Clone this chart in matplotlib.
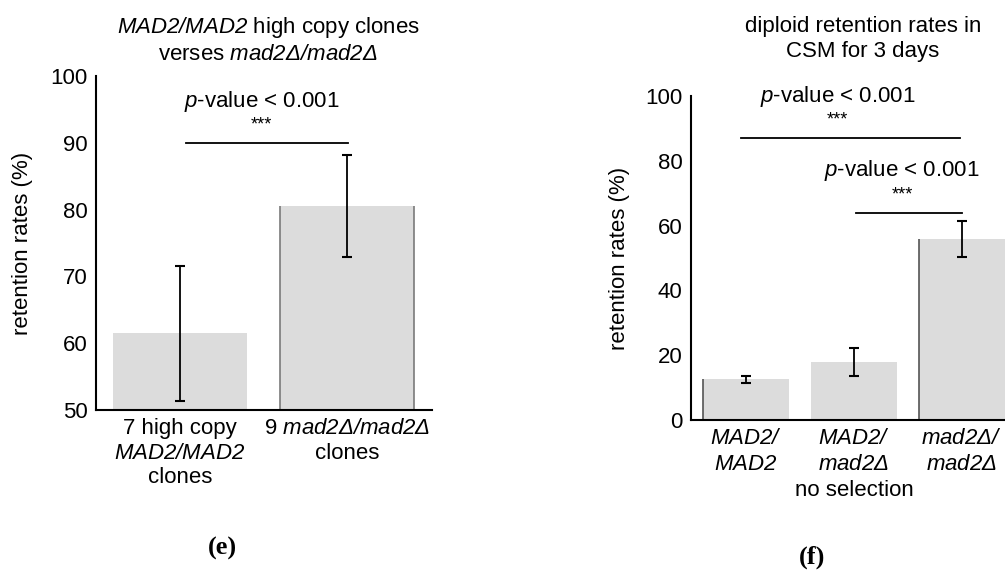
import matplotlib
matplotlib.use("Agg")
from matplotlib import pyplot as plt
import numpy as np

plt.rcParams["font.family"] = ["Liberation Sans", "DejaVu Sans"]
plt.rcParams["mathtext.fontset"] = "custom"
plt.rcParams["mathtext.rm"] = "Liberation Sans:italic"
plt.rcParams["mathtext.it"] = "Liberation Sans:italic"
plt.rcParams["mathtext.sf"] = "Liberation Sans:italic"

# panel (e)
e_labels = ["7 high copy\n$MAD2/MAD2$\nclones",
            "9 $mad2Δ/mad2Δ$\nclones"]
e_values = [61.5, 80.5]
e_errors = [10.1, 7.6]

# panel (f)
f_labels = ["$MAD2/$\n$MAD2$",
            "$MAD2/$\n$mad2Δ$\nno selection",
            "$mad2Δ/$\n$mad2Δ$"]
f_values = [12.6, 17.8, 55.8]
f_errors = [1.1, 4.3, 5.5]

FS = 16
BAR = "#dcdcdc"
W, H = 1005, 570

fig = plt.figure(figsize=(W / 100, H / 100), dpi=100)


def px_axes(x0, y0, x1, y1):
    return fig.add_axes([x0 / W, 1 - y1 / H, (x1 - x0) / W, (y1 - y0) / H])


def style(ax):
    for s in ["top", "right"]:
        ax.spines[s].set_visible(False)
    for s in ["left", "bottom"]:
        ax.spines[s].set_linewidth(1.5)
    ax.tick_params(length=0, labelsize=FS, pad=6)


def sig(ax, x0, x1, y, dx=0):
    # dx: text shift in points relative to the line centre
    ax.plot([x0, x1], [y, y], color="black", lw=1.3, clip_on=False)
    xm = (x0 + x1) / 2
    ax.annotate("***", (xm, y), xytext=(dx, 13), textcoords="offset points",
                ha="center", va="center", fontsize=13)
    ax.annotate("$p$-value < 0.001", (xm, y), xytext=(dx, 30),
                textcoords="offset points", ha="center", va="center", fontsize=FS)


# (e)
ax1 = px_axes(96, 76, 432, 410)
x = np.arange(len(e_values))
ax1.bar(x, np.array(e_values) - 50, bottom=50, width=0.8, color=BAR)
ax1.vlines([x[1] - 0.4, x[1] + 0.4], 50, e_values[1], color="#7a7a7a", lw=1.2)
ax1.errorbar(x, e_values, yerr=e_errors, fmt="none", ecolor="black",
             elinewidth=1.3, capsize=3.5, capthick=1.5)
ax1.set_xlim(-0.503, 1.509)
ax1.set_ylim(50, 100)
ax1.set_yticks([50, 60, 70, 80, 90, 100])
ax1.set_xticks(x)
ax1.set_xticklabels(e_labels, linespacing=1.2)
ax1.set_ylabel("retention rates (%)", fontsize=FS)
ax1.yaxis.set_label_coords((33 - 96) / 336, 0.5)
style(ax1)
sig(ax1, 0.036, 1.006, 90, dx=-4)
fig.text(268 / W, 1 - 40 / H,
         "$MAD2/MAD2$ high copy clones\nverses $mad2Δ/mad2Δ$",
         ha="center", va="center", fontsize=FS, linespacing=1.25)
fig.text(222 / W, 1 - 548 / H, "(e)", ha="center", va="center",
         fontsize=19, family="Liberation Serif", weight="bold")

# (f)
ax2 = px_axes(691, 96, 1005, 420)
x = np.arange(len(f_values))
ax2.bar(x, f_values, width=0.8, color=BAR)
ax2.vlines([x[0] - 0.4, x[2] - 0.4], 0, [f_values[0], f_values[2]],
           color="#555555", lw=1.2)
ax2.errorbar(x, f_values, yerr=f_errors, fmt="none", ecolor="black",
             elinewidth=1.3, capsize=3.5, capthick=1.5)
ax2.set_xlim(-0.51, 2.40)
ax2.set_ylim(0, 100)
ax2.set_yticks([0, 20, 40, 60, 80, 100])
ax2.set_xticks(x)
ax2.set_xticklabels(f_labels, linespacing=1.3)
ax2.set_ylabel("retention rates (%)", fontsize=FS)
ax2.yaxis.set_label_coords((630 - 691) / 314, 0.5)
style(ax2)
sig(ax2, -0.046, 1.98, 87, dx=-9)
sig(ax2, 1.02, 2.0, 64, dx=-5)
fig.text(863 / W, 1 - 39 / H, "diploid retention rates in\nCSM for 3 days",
         ha="center", va="center", fontsize=FS, linespacing=1.25)
fig.text(812 / W, 1 - 557 / H, "(f)", ha="center", va="center",
         fontsize=19, family="Liberation Serif", weight="bold")

fig.savefig("out.png", dpi=100)
